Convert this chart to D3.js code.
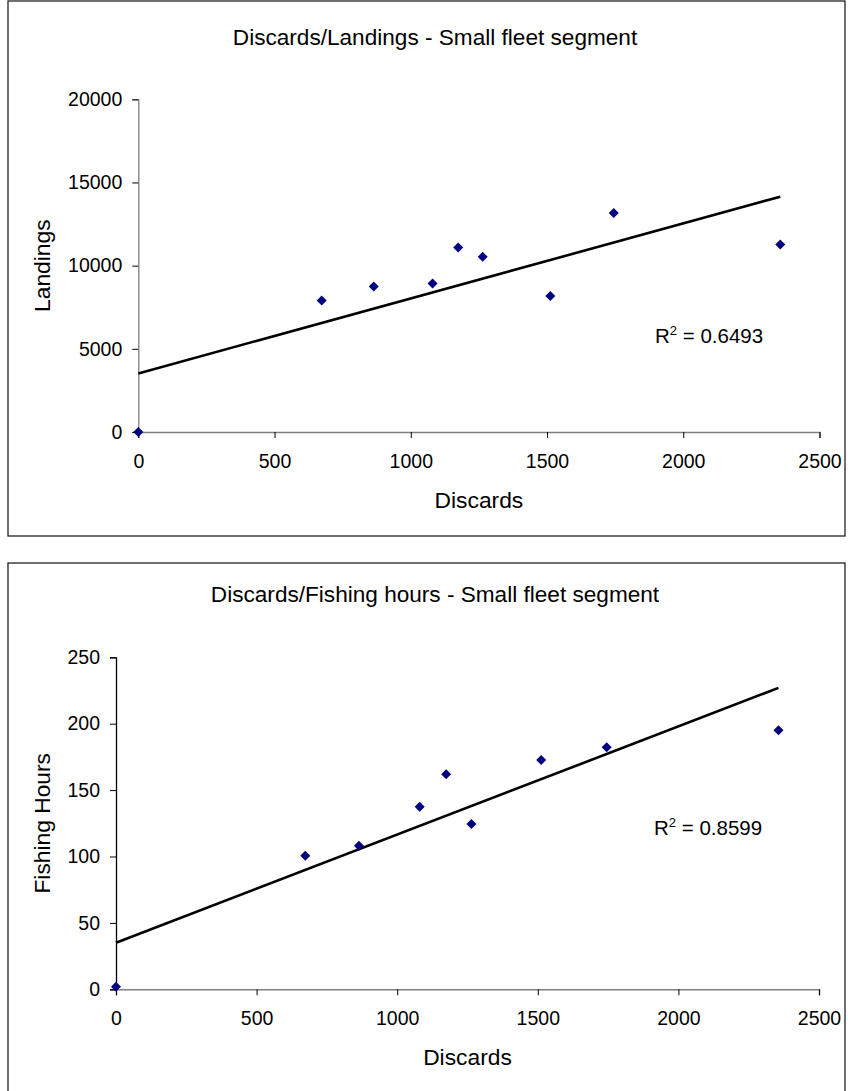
<!DOCTYPE html>
<html>
<head>
<meta charset="utf-8">
<script src="https://cdn.jsdelivr.net/npm/d3@7"></script>
<style>
  html, body { margin: 0; padding: 0; background: #fff; }
  svg { display: block; font-family: "Liberation Sans", Arial, sans-serif; }
</style>
</head>
<body>
<svg id="chart" width="848" height="1091"></svg>
<script>
// ---- Data ----
const discards      = [0, 673, 864, 1080, 1174, 1264, 1512, 1745, 2356];
const landings      = [0, 7900, 8743, 8923, 11089, 10530, 8183, 13159, 11270];
const fishingHours  = [2, 100.6, 108.1, 137.4, 161.9, 124.5, 172.7, 182.2, 195];

const xTicks        = [0, 500, 1000, 1500, 2000, 2500];
const landingsTicks = [0, 5000, 10000, 15000, 20000];
const hoursTicks    = [0, 50, 100, 150, 200, 250];

const titles   = ["Discards/Landings - Small fleet segment", "Discards/Fishing hours - Small fleet segment"];
const yTitles  = ["Landings", "Fishing Hours"];
const xTitle   = "Discards";
const r2Labels = ["0.6493", "0.8599"];

// ---- Layout ----
const svg = d3.select("#chart");

const panels = [
  { frame: {x: 8, y: 1, w: 837, h: 535},
    xr: [138.3, 819.5], yr: [432, 99.3], yDomain: [0, 20000], yTicks: landingsTicks, yVals: landings,
    title: titles[0], titleY: 44.5, yTitle: yTitles[0], xTitleY: 507.7, r2: r2Labels[0], r2x: 655, r2y: 343,
    yAxisColor: "#808080" },
  { frame: {x: 8, y: 563, w: 837, h: 560},
    xr: [116, 819], yr: [989.3, 657.3], yDomain: [0, 250], yTicks: hoursTicks, yVals: fishingHours,
    title: titles[1], titleY: 601.5, yTitle: yTitles[1], xTitleY: 1065, r2: r2Labels[1], r2x: 654, r2y: 835,
    yAxisColor: "#000000" }
];

function linreg(xs, ys) {
  const mx = d3.mean(xs), my = d3.mean(ys);
  let sxy = 0, sxx = 0;
  xs.forEach((x, i) => { sxy += (x - mx) * (ys[i] - my); sxx += (x - mx) * (x - mx); });
  const slope = sxy / sxx;
  return { slope, intercept: my - slope * mx };
}

panels.forEach(p => {
  const g = svg.append("g");

  // frame
  g.append("rect")
    .attr("x", p.frame.x).attr("y", p.frame.y)
    .attr("width", p.frame.w).attr("height", p.frame.h)
    .attr("fill", "#fff").attr("stroke", "#222").attr("stroke-width", 1.3);

  const x = d3.scaleLinear().domain([0, 2500]).range(p.xr);
  const y = d3.scaleLinear().domain(p.yDomain).range(p.yr);

  // title
  g.append("text")
    .attr("x", 435).attr("y", p.titleY)
    .attr("text-anchor", "middle")
    .attr("font-size", "22.6px").attr("fill", "#000")
    .text(p.title);

  // x axis
  const xAxis = g.append("g")
    .attr("transform", `translate(0,${p.yr[0]})`)
    .call(d3.axisBottom(x).tickValues(xTicks).tickSize(6).tickPadding(16).tickFormat(d3.format("d")));
  xAxis.select(".domain").attr("stroke", "#808080").attr("stroke-width", 1.6);
  xAxis.selectAll(".tick line").attr("stroke", "#000");
  xAxis.selectAll(".tick text").attr("font-size", "19.5px").attr("fill", "#000")
    .attr("font-family", "Liberation Sans, Arial, sans-serif");

  // y axis
  const yAxis = g.append("g")
    .attr("transform", `translate(${p.xr[0]},0)`)
    .call(d3.axisLeft(y).tickValues(p.yTicks).tickSize(6).tickPadding(10).tickFormat(d3.format("d")));
  yAxis.select(".domain").attr("stroke", p.yAxisColor).attr("stroke-width", 1.3);
  yAxis.selectAll(".tick line").attr("stroke", "#000");
  yAxis.selectAll(".tick text").attr("font-size", "19.5px").attr("fill", "#000")
    .attr("font-family", "Liberation Sans, Arial, sans-serif");

  // axis titles
  g.append("text")
    .attr("x", (p.xr[0] + p.xr[1]) / 2).attr("y", p.xTitleY)
    .attr("text-anchor", "middle").attr("font-size", "22.8px").attr("fill", "#000")
    .text(xTitle);

  g.append("text")
    .attr("transform", `translate(50,${(p.yr[0] + p.yr[1]) / 2}) rotate(-90)`)
    .attr("text-anchor", "middle").attr("font-size", "22.8px").attr("fill", "#000")
    .text(p.yTitle);

  // trend line (linear least squares)
  const fit = linreg(discards, p.yVals);
  const xMax = d3.max(discards);
  g.append("line")
    .attr("x1", x(0)).attr("y1", y(fit.intercept))
    .attr("x2", x(xMax)).attr("y2", y(fit.intercept + fit.slope * xMax))
    .attr("stroke", "#000").attr("stroke-width", 2.6);

  // points
  g.selectAll("path.pt")
    .data(discards.map((d, i) => [d, p.yVals[i]]))
    .enter().append("path")
    .attr("class", "pt")
    .attr("transform", d => `translate(${x(d[0])},${y(d[1])})`)
    .attr("d", "M0,-5L5,0L0,5L-5,0Z")
    .attr("fill", "#000080");

  // R² label
  const t = g.append("text")
    .attr("x", p.r2x).attr("y", p.r2y)
    .attr("font-size", "20.5px").attr("fill", "#000");
  t.append("tspan").text("R");
  t.append("tspan").attr("font-size", "13px").attr("dy", -8).text("2");
  t.append("tspan").attr("dy", 8).text(" = " + p.r2);
});
</script>
</body>
</html>
